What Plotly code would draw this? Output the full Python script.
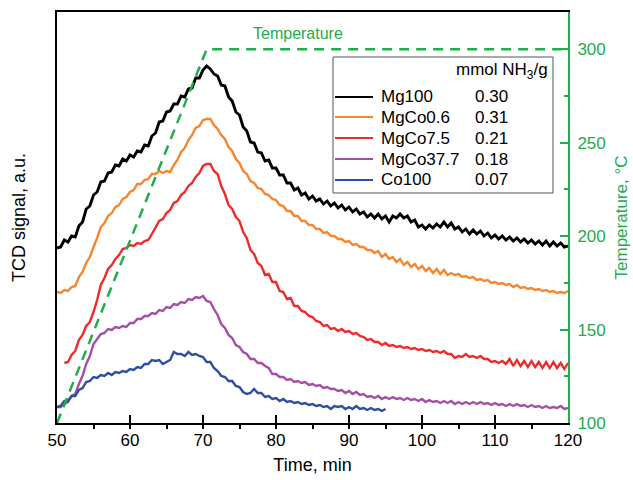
import plotly.graph_objects as go

# ---------------- data ----------------
# TCD signal in arbitrary units, sampled every 0.5 min
step = 0.5

t0_mg100 = 50.0
sig_mg100 = [175,176,183,181,187,186,197,201,214,217,
             228,231,241,242,250,251,258,257,264,262,
             268,266,272,271,278,277,287,290,301,302,
             311,312,319,319,327,326,334,335,345,345,
             353,357,354,349,347,338,337,326,322,311,
             308,296,292,281,280,271,270,262,263,255,
             255,248,248,240,240,233,235,228,230,224,
             227,222,224,219,222,217,220,215,218,213,
             216,211,214,209,211,206,209,205,209,204,
             207,201,207,205,209,205,207,201,203,196,
             198,194,198,195,199,196,201,196,200,194,
             196,191,194,189,193,189,192,187,190,185,
             188,184,187,183,186,182,185,181,184,180,
             183,179,182,178,182,177,181,177,180,176,
             177]

t0_mgco06 = 50.0
sig_mgco06 = [131,130,133,132,136,137,146,151,160,166,
              176,185,196,200,207,210,216,218,224,226,
              231,233,239,239,243,244,249,249,252,250,
              252,251,258,263,271,275,283,288,295,297,
              303,304,304,298,294,288,284,276,272,264,
              260,252,249,242,240,235,234,229,228,224,
              223,218,217,212,212,207,207,202,202,198,
              198,194,194,190,191,187,187,184,184,181,
              182,178,179,176,176,173,173,170,172,166,
              169,164,166,161,164,158,161,156,159,154,
              157,152,155,150,154,149,153,148,150,148,
              149,146,147,145,146,143,144,142,143,140,
              141,139,140,138,139,136,138,135,136,134,
              135,133,134,132,133,131,132,130,131,130,
              132]

t0_mgco75 = 51.0
sig_mgco75 = [60,61,68,72,83,88,97,101,111,123,
              138,145,154,158,164,168,174,175,178,177,
              180,179,182,183,189,195,202,204,210,213,
              220,222,228,231,237,240,246,250,257,259,
              259,252,249,237,229,218,214,206,202,191,
              185,173,169,160,157,148,149,141,141,132,
              131,124,125,117,117,112,111,107,106,102,
              101,97,98,94,95,92,94,91,92,89,
              90,87,86,83,84,81,81,78,80,77,
              78,76,77,75,76,74,75,73,74,72,
              73,71,72,70,72,69,69,65,67,66,
              69,66,67,65,67,64,64,61,62,60,
              62,59,64,57,63,57,62,56,62,56,
              61,55,61,55,61,55,60,54,60]

t0_mgco377 = 50.0
sig_mgco377 = [16,16,19,21,27,29,39,47,59,67,
               79,84,89,90,94,93,96,95,97,96,
               100,100,104,104,107,107,110,109,113,112,
               116,115,119,118,121,120,124,123,126,125,
               127,122,121,114,108,99,95,88,85,78,
               76,71,69,64,64,60,60,57,55,49,
               49,46,46,43,44,41,42,40,41,38,
               39,37,38,35,36,34,34,32,33,30,
               32,29,31,28,29,26,27,25,27,24,
               26,24,26,24,25,23,25,23,24,22,
               24,21,23,21,22,20,22,20,22,19,
               21,19,21,19,21,19,21,19,20,18,
               20,18,19,17,19,17,19,17,18,16,
               18,16,17,15,17,15,16,15,17,14,
               15]

t0_co100 = 50.0
sig_co100 = [16,17,22,22,27,27,33,35,41,42,
             46,45,48,47,50,48,51,50,52,51,
             54,53,56,55,59,59,63,62,63,59,
             61,63,71,69,69,67,71,68,69,67,
             66,61,61,55,52,47,46,42,42,37,
             36,31,29,30,34,30,30,26,27,24,
             25,22,24,21,22,20,21,19,20,18,
             19,17,18,16,17,14,17,16,17,14,
             16,14,17,14,15,13,15,13,14,12,
             14]

temp_time = [50, 70.5, 120]
temp_vals = [100, 300, 300]

names = ["Mg100", "MgCo0.6", "MgCo7.5", "MgCo37.7", "Co100"]
nh3 = ["0.30", "0.31", "0.21", "0.18", "0.07"]
colors = ["#000000", "#f7862f", "#ee2b2b", "#a64ea6", "#2f4ea2"]
widths = [2.9, 2.4, 2.4, 2.4, 2.4]
signals = [sig_mg100, sig_mgco06, sig_mgco75, sig_mgco377, sig_co100]
starts = [t0_mg100, t0_mgco06, t0_mgco75, t0_mgco377, t0_co100]

GREEN = "#22ad4b"
FONT = "Liberation Sans, Arial, sans-serif"

fig = go.Figure()
for nm, sig, t0, col, w in zip(names, signals, starts, colors, widths):
    t = [t0 + step * i for i in range(len(sig))]
    fig.add_trace(go.Scatter(x=t, y=sig, mode="lines", name=nm,
                             line=dict(color=col, width=w), showlegend=False))

fig.add_trace(go.Scatter(x=temp_time, y=temp_vals, yaxis="y2", mode="lines",
                         line=dict(color=GREEN, width=2.5, dash="10px,7px"),
                         showlegend=False, name="Temperature"))

fig.update_layout(
    width=633, height=480,
    margin=dict(l=57, r=65, t=12, b=57, autoexpand=False),
    paper_bgcolor="white", plot_bgcolor="white",
    font=dict(family=FONT, size=17, color="black"),
    xaxis=dict(range=[50, 120], tick0=50, dtick=10, ticks="inside", ticklen=8,
               tickwidth=1.5, tickcolor="black", automargin=False,
               minor=dict(tick0=50, dtick=5, ticks="outside", ticklen=4,
                          tickwidth=1.5, tickcolor="black", showgrid=False),
               showline=True, linecolor="black", linewidth=1.5, mirror=True,
               showgrid=False, zeroline=False, ticklabelstandoff=1,
               title=dict(text="Time, min", font=dict(size=18), standoff=9)),
    yaxis=dict(range=[0, 411], showticklabels=False, ticks="", showline=True,
               linecolor="black", linewidth=1.5, showgrid=False, zeroline=False,
               automargin=False,
               title=dict(text="TCD signal, a.u.", font=dict(size=18), standoff=25)),
    yaxis2=dict(overlaying="y", side="right", range=[100, 320], tick0=100, dtick=50,
                ticks="inside", ticklen=8, tickwidth=1.5, tickcolor=GREEN,
                minor=dict(tick0=100, dtick=25, ticks="inside", ticklen=4,
                           tickwidth=1.5, tickcolor=GREEN, showgrid=False),
                showline=True, linecolor=GREEN, linewidth=2, automargin=False,
                tickfont=dict(color=GREEN), ticklabelstandoff=4,
                showgrid=False, zeroline=False,
                title=dict(text="Temperature, °C", font=dict(size=17, color=GREEN), standoff=10)),
)

# legend box built from shapes and annotations (paper coordinates)
def px_x(px):
    return (px - 57) / 511.0

def px_y(py):
    return (423 - py) / 411.0

shapes = [dict(type="rect", xref="paper", yref="paper",
               x0=px_x(333), x1=px_x(553), y0=px_y(193), y1=px_y(57),
               line=dict(color="#555555", width=1), fillcolor="white", layer="above")]
annotations = [
    dict(xref="paper", yref="paper", x=px_x(550), y=px_y(71), xanchor="right", yanchor="middle",
         text="mmol NH<sub>3</sub>/g", showarrow=False, font=dict(size=17)),
    dict(xref="paper", yref="paper", x=px_x(298), y=px_y(33), xanchor="center", yanchor="middle",
         text="Temperature", showarrow=False, font=dict(size=16, color=GREEN)),
]
row_y = [97, 117, 138, 159, 180]
for nm, val, col, ry in zip(names, nh3, colors, row_y):
    shapes.append(dict(type="line", xref="paper", yref="paper",
                       x0=px_x(335), x1=px_x(373), y0=px_y(ry), y1=px_y(ry),
                       line=dict(color=col, width=2.2), layer="above"))
    annotations.append(dict(xref="paper", yref="paper", x=px_x(379), y=px_y(ry),
                            xanchor="left", yanchor="middle", text=nm, showarrow=False,
                            font=dict(size=17)))
    annotations.append(dict(xref="paper", yref="paper", x=px_x(473), y=px_y(ry),
                            xanchor="left", yanchor="middle", text=val, showarrow=False,
                            font=dict(size=17)))

fig.update_layout(shapes=shapes, annotations=annotations)

fig.write_html("out.html", config={"displayModeBar": False},
               post_script="document.body.style.margin='0';document.body.style.overflow='hidden';")
